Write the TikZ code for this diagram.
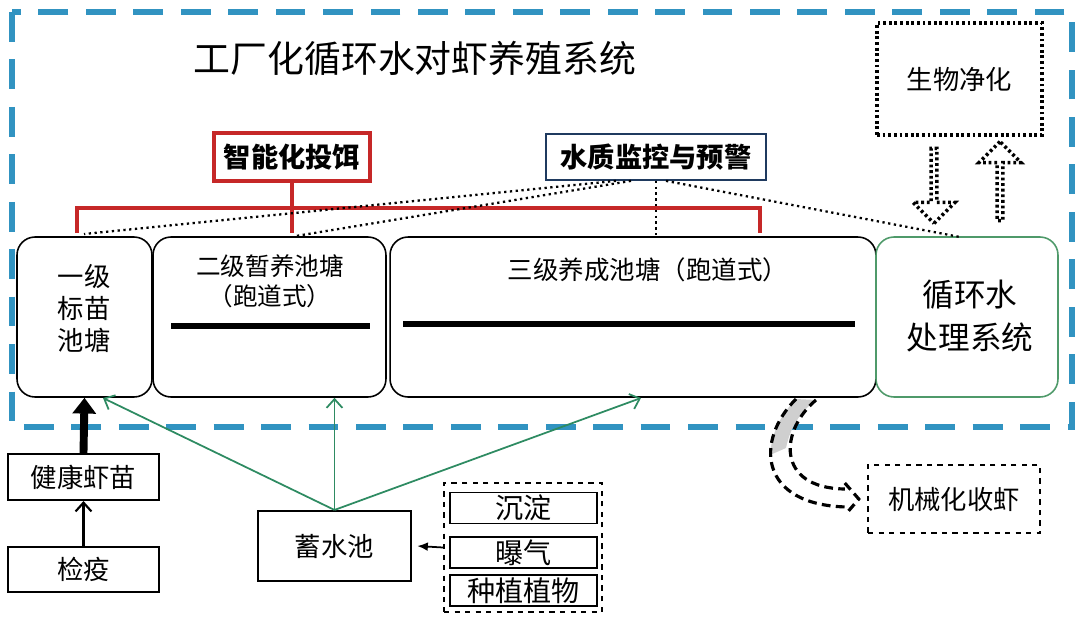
\documentclass[tikz,border=0pt]{standalone}
\usepackage{fontspec}
\setmainfont{Noto Sans CJK SC}
\usetikzlibrary{arrows.meta,positioning,calc,shapes.arrows}
\definecolor{frame}{HTML}{3193C1}
\definecolor{feedred}{HTML}{C62828}
\definecolor{wqnavy}{HTML}{1F3A5F}
\definecolor{pipe}{HTML}{2E8B62}
\definecolor{recirc}{HTML}{4F9A6A}
\definecolor{harvgray}{HTML}{CFCFCF}

\begin{document}
\begin{tikzpicture}[x=0.02cm,y=-0.02cm,
  pond/.style={draw,rounded corners=0.36cm,line width=0.9pt},
  plainbox/.style={draw,line width=1.2pt,font=\fontsize{15}{18}\selectfont},
  stepbox/.style={draw,line width=0.9pt,inner sep=0pt,minimum width=2.94cm,minimum height=0.62cm,font=\fontsize{16}{18}\selectfont},
  redln/.style={feedred,line width=1.8pt},
  wqln/.style={dotted,line width=1.3pt},
  heavydot/.style={line width=2pt,dash pattern=on 1.6pt off 1.6pt},
  harvln/.style={line width=1.8pt,dash pattern=on 5pt off 3pt},
  feeder/.style={-{Straight Barb[length=5pt,width=9pt]},pipe,line width=1pt},
  flowarrow/.style={single arrow,draw,heavydot,inner sep=0pt,minimum width=0.84cm,single arrow head extend=0.22cm}]
\useasboundingbox (0,0) rectangle (1080,622);
\draw[frame,line width=3.4pt,dash pattern=on 17pt off 10pt] (12,12) rectangle (1072,427);
\node[font=\fontsize{21}{25}\selectfont] (title) at (415,58) {工厂化循环水对虾养殖系统};

% ponds
\node[pond,minimum width=2.7cm,minimum height=3.2cm] (p1) at (84.5,317) {};
\node[pond,minimum width=4.66cm,minimum height=3.2cm] (p2) at (269.5,317) {};
\node[pond,minimum width=9.72cm,minimum height=3.2cm] (p3) at (633,317) {};
\node[pond,draw=recirc,minimum width=3.64cm,minimum height=3.2cm] (p4) at (967,317) {};
\node[font=\fontsize{15}{18.2}\selectfont,align=center] (p1txt) at (84,308) {一级\\标苗\\池塘};
\node[font=\fontsize{14}{17}\selectfont,align=center] (p2txt) at (270,281) {二级暂养池塘\\（跑道式）};
\node[font=\fontsize{14.5}{17}\selectfont] (p3txt) at (648,270) {三级养成池塘（跑道式）};
\node[font=\fontsize{18}{24}\selectfont,align=center] (p4txt) at (970,316) {循环水\\处理系统};
\draw[line width=3pt] (171,326) -- (370,326);
\draw[line width=3pt] (403,324) -- (855,324);

% control boxes
\node[draw=feedred,line width=2.2pt,fill=white,minimum width=3.12cm,minimum height=0.96cm,font=\bfseries\fontsize{15.5}{18}\selectfont] (feed) at (292,157) {智能化投饵};
\node[draw=wqnavy,line width=1pt,minimum width=4.4cm,minimum height=0.92cm,font=\bfseries\fontsize{15.5}{18}\selectfont] (wq) at (656,157) {水质监控与预警};
\node[draw,heavydot,minimum width=3.3cm,minimum height=2.24cm,font=\fontsize{15}{18}\selectfont] (bio) at (959.5,79) {生物净化};
\node[flowarrow,shape border rotate=270,minimum height=1.5cm] (bdown) at (934,184.5) {};
\node[flowarrow,shape border rotate=90,minimum height=1.58cm] (bup) at (1000,182.5) {};

\coordinate (fl) at (77,233);
\coordinate (fr) at (760,233);
\draw[redln] (fl) -- (77,208) -- (760,208) -- (fr);
\draw[redln] (feed.south) -- (feed.south |- fl);

\coordinate (w1) at (84,234);
\coordinate (w2) at (296,236);
\coordinate (w4) at (960,237);
\foreach \dx/\t in {-40/w1,-25/w2,10/w4}{\draw[wqln] ($(wq.south)+(\dx,0)$) -- (\t);}
\draw[wqln] (wq.south) -- (wq.south |- p3.north);

% supply side
\node[plainbox,minimum width=3.02cm,minimum height=0.92cm] (fry) at (83.5,477) {健康虾苗};
\node[plainbox,minimum width=3.02cm,minimum height=0.9cm] (quar) at (83.5,569.5) {检疫};
\node[plainbox,minimum width=3.06cm,minimum height=1.4cm] (stor) at (334.5,546) {蓄水池};
\node[draw,dashed,line width=1.3pt,minimum width=3.16cm,minimum height=2.58cm] (treat) at (523,547.5) {};
\node[stepbox] (settle) at (523.5,508) {沉淀};
\node[stepbox] (aer) at (523.5,552.5) {曝气};
\node[stepbox] (plant) at (523.5,590.5) {种植植物};
\node[draw,dashed,line width=1.4pt,minimum width=3.44cm,minimum height=1.36cm,font=\fontsize{15}{18}\selectfont] (harv) at (954,499) {机械化收虾};

\draw[line width=4.5pt,-{Triangle[length=9pt,width=13pt]}] (fry.north) -- (p1.south);
\draw[line width=1.2pt,-{Straight Barb[length=5pt,width=9pt]}] (quar) -- (fry);
\draw[line width=1pt,-{Latex[length=6pt,width=5pt]}] (treat.west) -- ([xshift=3pt]stor.east);

\coordinate (g1) at (103,398);
\coordinate (g2) at (stor.north |- p2.south);
\coordinate (g3) at (641,398);
\foreach \t in {g1,g2,g3}{\draw[feeder] (stor.north) -- (\t);}

% harvest arrow
\coordinate (ha) at (796,399);
\coordinate (hb) at (816,400);
\coordinate (ht) at ($(harv.west)+(-8,0)$);
\fill[harvgray] (ha) .. controls (780,416) and (772,432) .. (770,455) -- (786,448) .. controls (790,428) and (800,412) .. (hb) -- cycle;
\draw[harvln] (ha) .. controls (755,440) and (758,505) .. ($(ht)+(-12,8)$);
\draw[harvln] (hb) .. controls (780,430) and (775,488) .. ($(ht)+(-14,-10)$);
\draw[harvln] ($(ht)+(-14,-16)$) -- (ht) -- ($(ht)+(-12,14)$);
\end{tikzpicture}
\end{document}
